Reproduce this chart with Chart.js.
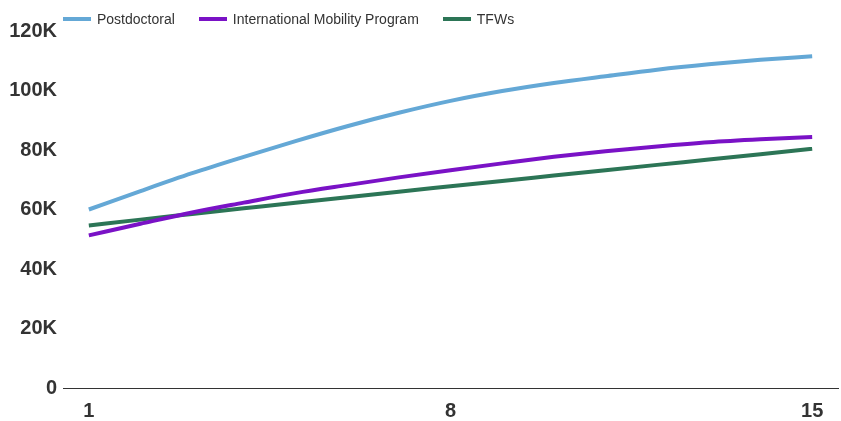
<!DOCTYPE html>
<html>
<head>
<meta charset="utf-8">
<script src="https://cdn.jsdelivr.net/npm/chart.js@4/dist/chart.umd.min.js"></script>
<style>
  html, body { margin: 0; padding: 0; background: #fff; }
  #wrap { position: relative; width: 841px; height: 421px; }
  #legend {
    position: absolute; left: 63px; top: 10px; height: 18px;
    display: flex; align-items: center;
    font: 14px "Liberation Sans", Arial, sans-serif; color: #333;
  }
  #legend .item { display: flex; align-items: center; margin-right: 24px; white-space: nowrap; }
  #legend .box { width: 28px; height: 4px; margin-right: 6px; }
</style>
</head>
<body>
<div id="wrap">
  <canvas id="chart" width="841" height="421"></canvas>
  <div id="legend"></div>
</div>
<script>
const years = [1, 2, 3, 4, 5, 6, 7, 8, 9, 10, 11, 12, 13, 14, 15];
const shownTicks = [1, 8, 15];

const postdoctoral = [60000, 66200, 72200, 77700, 83000, 88000, 92500, 96500, 99800, 102500, 104800, 107000, 108800, 110300, 111500];
const mobility = [51300, 55200, 59000, 62300, 65500, 68200, 70800, 73200, 75500, 77700, 79600, 81200, 82600, 83600, 84400];
const tfws = [54600, 56600, 58500, 60400, 62300, 64100, 66000, 67800, 69600, 71400, 73200, 75000, 76800, 78600, 80400];

const seriesNames = ["Postdoctoral", "International Mobility Program", "TFWs"];
const seriesColors = ["#64a8d6", "#7a12c6", "#2c7556"];

const tickFont = { family: "'Liberation Sans', Arial, sans-serif", size: 20, weight: "bold", lineHeight: 1 };

function line(i, data) {
  return {
    label: seriesNames[i],
    data,
    borderColor: seriesColors[i],
    backgroundColor: seriesColors[i],
    borderWidth: 4,
    pointRadius: 0,
    pointHoverRadius: 0,
    cubicInterpolationMode: "monotone",
    fill: false,
  };
}

const chart = new Chart(document.getElementById("chart"), {
  type: "line",
  data: {
    labels: years,
    datasets: [line(0, postdoctoral), line(1, mobility), line(2, tfws)],
  },
  options: {
    responsive: false,
    animation: false,
    layout: { padding: { top: 31, right: 3, left: 0, bottom: 0 } },
    plugins: { legend: { display: false }, tooltip: { enabled: false } },
    scales: {
      x: {
        offset: true,
        grid: { display: false, drawTicks: false },
        border: { display: true, color: "#333", width: 1 },
        ticks: {
          autoSkip: false,
          maxRotation: 0,
          padding: 13,
          color: "#333",
          font: tickFont,
          callback: function (v, i) {
            const lab = years[i];
            return shownTicks.includes(lab) ? String(lab) : "";
          },
        },
        afterFit: (scale) => { scale.height = 33; },
      },
      y: {
        min: 0,
        max: 120000,
        grid: { display: false, drawTicks: false },
        border: { display: false },
        ticks: {
          stepSize: 20000,
          padding: 6,
          color: "#333",
          font: tickFont,
          callback: (v) => (v === 0 ? "0" : v / 1000 + "K"),
        },
        afterFit: (scale) => { scale.width = 63; },
      },
    },
  },
});

// legend built from the chart's own datasets
const legendEl = document.getElementById("legend");
chart.data.datasets.forEach((ds) => {
  const item = document.createElement("div");
  item.className = "item";
  const box = document.createElement("span");
  box.className = "box";
  box.style.background = ds.borderColor;
  const txt = document.createElement("span");
  txt.textContent = ds.label;
  item.appendChild(box);
  item.appendChild(txt);
  legendEl.appendChild(item);
});
</script>
</body>
</html>
